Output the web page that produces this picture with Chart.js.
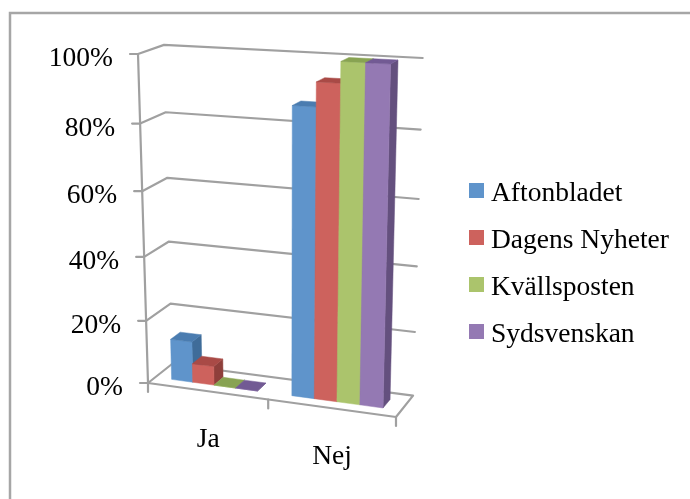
<!DOCTYPE html>
<html lang="en">
<head>
  <meta charset="UTF-8" />
  <title>Aftonbladet, Dagens Nyheter, Kvällsposten, Sydsvenskan</title>
  <script src="https://cdn.jsdelivr.net/npm/chart.js"></script>
  <style>
    html, body { margin: 0; padding: 0; background: #fff; }
    canvas { display: block; }
  </style>
</head>
<body>
  <canvas id="chart" width="690" height="499"></canvas>

  <script>
    const categories = ['Ja', 'Nej'];
    const aftonbladet = [13, 87];
    const dagensNyheter = [6, 94];
    const kvallsposten = [0, 100];
    const sydsvenskan = [0, 100];
    const yTicks = [0, 20, 40, 60, 80, 100];

    const FONT = '27.5px "Liberation Serif"';
    const GRID = '#a0a0a0';

    // corners of the 3D box as they land on the page, plus the perspective terms
    const O = [148, 383], U = [396, 417], V = [138, 54], W = [172, 364];
    const L = -0.0595, M = -0.068, N = 0.033;

    // u = along the categories, v = up the value axis, w = depth (0 front, 1 back)
    function project(u, v, w) {
      const d = 1 + L * u + M * v + N * w;
      const c = i =>
        (O[i] + (U[i] * (1 + L) - O[i]) * u + (V[i] * (1 + M) - O[i]) * v + (W[i] * (1 + N) - O[i]) * w) / d;
      return [c(0), c(1)];
    }

    function line(ctx, pts) {
      ctx.beginPath();
      pts.forEach((p, i) => (i ? ctx.lineTo(p[0], p[1]) : ctx.moveTo(p[0], p[1])));
      ctx.stroke();
    }

    function face(ctx, pts, color) {
      ctx.beginPath();
      pts.forEach((p, i) => (i ? ctx.lineTo(p[0], p[1]) : ctx.moveTo(p[0], p[1])));
      ctx.closePath();
      ctx.fillStyle = color;
      ctx.strokeStyle = color;
      ctx.lineWidth = 0.5;
      ctx.fill();
      ctx.stroke();
    }

    const box3d = {
      id: 'box3d',
      beforeDraw(chart) {
        const ctx = chart.ctx;
        ctx.save();
        ctx.strokeStyle = '#a6a6a6';
        ctx.lineWidth = 2.5;
        ctx.strokeRect(10, 13, 690, 499);
        ctx.restore();
      },
      beforeDatasetsDraw(chart) {
        const ctx = chart.ctx, y = chart.scales.y;
        ctx.save();
        ctx.strokeStyle = GRID;
        ctx.lineWidth = 2.2;
        ctx.lineCap = 'round';
        ctx.lineJoin = 'round';
        y.ticks.forEach(t => {
          const v = t.value / y.max;
          const front = project(0, v, 0);
          if (v > 0) line(ctx, [[front[0] - 8, front[1]], front, project(0, v, 1), project(1, v, 1)]);
        });
        // floor and the value axis
        line(ctx, [project(0, 0, 0), project(1, 0, 0), project(1, 0, 1), project(0, 0, 1), project(0, 0, 0)]);
        const o = project(0, 0, 0);
        line(ctx, [[o[0] - 8, o[1]], o]);
        line(ctx, [project(0, 1, 0), o]);
        [0, 0.5, 1].forEach(u => {
          const p = project(u, 0, 0);
          line(ctx, [p, [p[0], p[1] + 9]]);
        });
        ctx.restore();
      },
      // the bars are drawn in afterDatasetsDraw, in perspective
      beforeDatasetDraw() {
        return false;
      },
      afterDatasetsDraw(chart) {
        const ctx = chart.ctx, xs = chart.scales.x, ys = chart.scales.y;
        const toU = px => (px - xs.left) / xs.width;
        const toV = px => (ys.bottom - px) / ys.height;
        const w0 = 0.3, w1 = 0.7;
        chart.data.datasets.forEach((ds, di) => {
          chart.getDatasetMeta(di).data.forEach(bar => {
            const u0 = toU(bar.x - bar.width / 2), u1 = toU(bar.x + bar.width / 2);
            const v0 = toV(bar.base), v1 = toV(bar.y);
            face(ctx, [project(u1, v0, w0), project(u1, v0, w1), project(u1, v1, w1), project(u1, v1, w0)], ds.sideColor);
            face(ctx, [project(u0, v0, w0), project(u1, v0, w0), project(u1, v1, w0), project(u0, v1, w0)], ds.backgroundColor);
            face(ctx, [project(u0, v1, w0), project(u1, v1, w0), project(u1, v1, w1), project(u0, v1, w1)], ds.topColor);
          });
        });

        ctx.save();
        ctx.font = FONT;
        ctx.fillStyle = '#000';
        ctx.textBaseline = 'middle';
        ctx.textAlign = 'right';
        ys.ticks.forEach(t => {
          const p = project(0, t.value / ys.max, 0);
          ctx.fillText(t.value + '%', p[0] - 25, p[1] + 5);
        });
        ctx.textAlign = 'center';
        categories.forEach((c, i) => {
          const p = project(toU(xs.getPixelForValue(i)), 0, 0);
          ctx.fillText(c, p[0] + 1, p[1] + 49);
        });

        // legend
        ctx.textAlign = 'left';
        chart.data.datasets.forEach((ds, i) => {
          const top = 183 + i * 47;
          ctx.fillStyle = ds.backgroundColor;
          ctx.fillRect(469, top, 15, 15);
          ctx.fillStyle = '#000';
          ctx.fillText(ds.label, 491, top + 11);
        });
        ctx.restore();
      }
    };

    new Chart(document.getElementById('chart').getContext('2d'), {
      type: 'bar',
      data: {
        labels: categories,
        datasets: [
          { label: 'Aftonbladet', data: aftonbladet, backgroundColor: '#5f94cb', sideColor: '#3f6c99', topColor: '#4a7cb0' },
          { label: 'Dagens Nyheter', data: dagensNyheter, backgroundColor: '#cd625d', sideColor: '#8e3f3b', topColor: '#a94a46' },
          { label: 'Kvällsposten', data: kvallsposten, backgroundColor: '#abc46c', sideColor: '#7a9045', topColor: '#88a352' },
          { label: 'Sydsvenskan', data: sydsvenskan, backgroundColor: '#9479b3', sideColor: '#64507e', topColor: '#725a94' }
        ]
      },
      options: {
        responsive: false,
        animation: false,
        events: [],
        datasets: { bar: { categoryPercentage: 0.72, barPercentage: 1 } },
        scales: {
          x: { display: false },
          y: { display: false, min: 0, max: 100, afterBuildTicks: s => { s.ticks = yTicks.map(value => ({ value })); } }
        },
        plugins: {
          tooltip: { enabled: false },
          legend: { display: false }
        }
      },
      plugins: [box3d]
    });
  </script>
</body>
</html>
